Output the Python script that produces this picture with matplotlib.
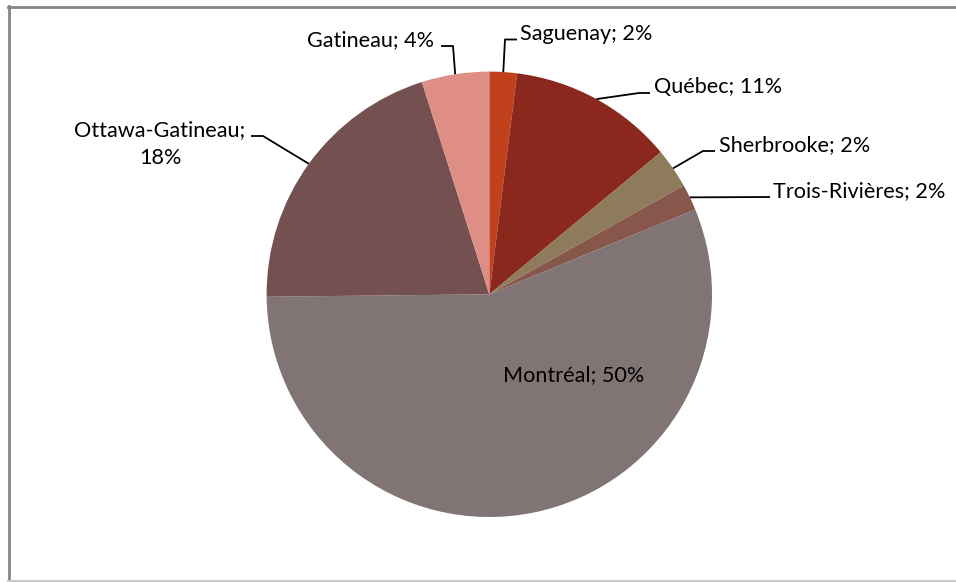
import numpy as np
import matplotlib
matplotlib.use("Agg")
import matplotlib.pyplot as plt

plt.rcParams['font.family'] = ['Lato', 'DejaVu Sans']

# slice shares (angles), labels as printed on the chart
cities = ['Saguenay', 'Québec', 'Sherbrooke', 'Trois-Rivières',
          'Montréal', 'Ottawa-Gatineau', 'Gatineau']
shares = [2.0, 12.0, 2.9, 1.9, 56.1, 20.3, 4.9]
label_pct = ['2%', '11%', '2%', '2%', '50%', '18%', '4%']
colors = ['#C0411B', '#8B281E', '#8D7B5C', '#87574B',
          '#807474', '#745150', '#DF8E85']

W, H = 956, 582
FS = 15.6
fig = plt.figure(figsize=(W / 100, H / 100), dpi=100)
ax = fig.add_axes([0, 0, 1, 1])

cx, cy, r = 489.3, H - 294.3, 222.7
wedges, _ = ax.pie(shares, colors=colors, startangle=90, counterclock=False,
                   center=(cx, cy), radius=r,
                   wedgeprops=dict(linewidth=0))
ax.set_xlim(0, W)
ax.set_ylim(0, H)
ax.set_aspect('auto')
ax.axis('off')

# label layout in pixel coords (y from top): elbow, stub end, text x, alignment
# text baseline sits on the stub line
layout = {
    'Saguenay':        ((505, 39.5), (517, 39.5), 520, 'left'),
    'Québec':          ((639, 93), (650, 93), 654, 'left'),
    'Sherbrooke':      ((703, 151), (715, 151), 719, 'left'),
    'Trois-Rivières':  ((770, 197), (770, 197), 773, 'left'),
    'Gatineau':        ((453, 46), (441, 46), 434, 'right'),
    'Ottawa-Gatineau': ((263, 136), (251, 136), 160, 'center'),
}

for w, name, pct in zip(wedges, cities, label_pct):
    mid = np.deg2rad((w.theta1 + w.theta2) / 2)
    px = cx + r * np.cos(mid)
    py = cy + r * np.sin(mid)
    if name == 'Montréal':
        ax.text(573.5, H - 381, f'{name}; {pct}', ha='center',
                va='baseline', fontsize=FS, color='black')
        continue
    elbow, stub, tx, ha = layout[name]
    ax.plot([px, elbow[0], stub[0]], [py, H - elbow[1], H - stub[1]],
            color='black', lw=1.3, solid_capstyle='butt')
    if name == 'Ottawa-Gatineau':
        ax.text(tx, H - stub[1], f'{name};', ha=ha, va='baseline',
                fontsize=FS, color='black')
        ax.text(tx, H - stub[1] - 28.5, pct, ha=ha, va='baseline',
                fontsize=FS, color='black')
    else:
        ax.text(tx, H - stub[1], f'{name}; {pct}', ha=ha, va='baseline',
                fontsize=FS, color='black')

# chart border
ax.plot([9, 9], [H - 6, H - 581], color='#868686', lw=2)
ax.plot([8, W], [H - 6.5, H - 6.5], color='#868686', lw=2)
ax.plot([8, W], [H - 581, H - 581], color='#C8C8C8', lw=1.5)

fig.savefig('out.png', dpi=100)
